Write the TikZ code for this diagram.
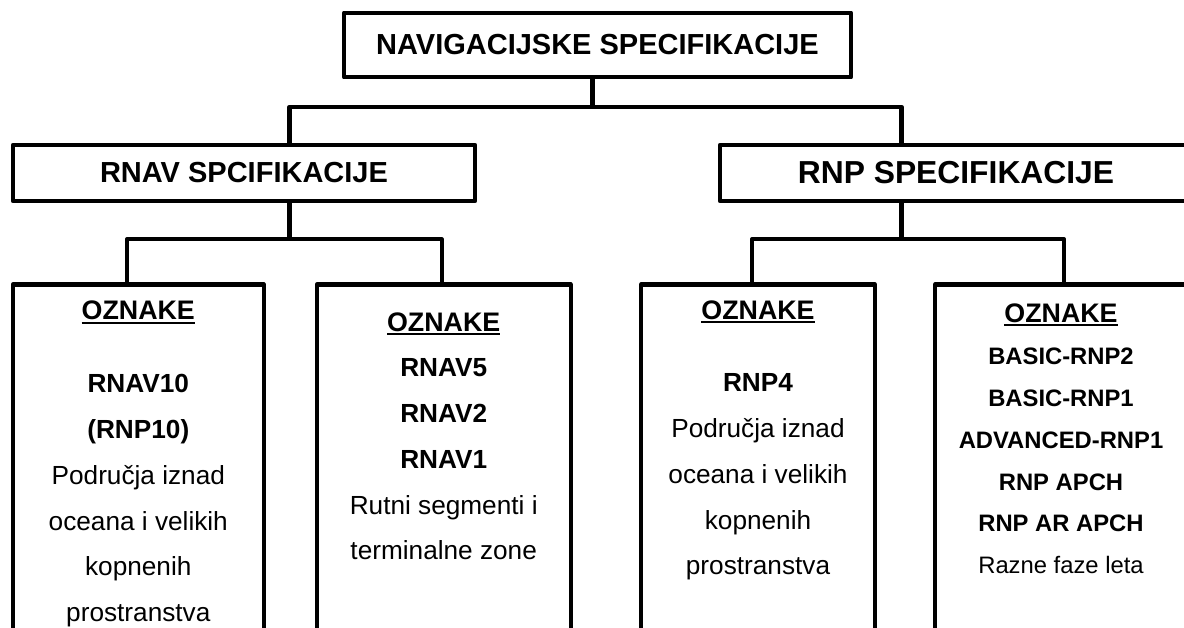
\documentclass[tikz,border=0pt]{standalone}
\usepackage{fontspec}
\setmainfont{Liberation Sans}

\newcommand{\podvuci}[1]{\setbox0\hbox{#1}\rlap{\rule[-3.7pt]{\wd0}{2pt}}\box0}

\begin{document}
\begin{tikzpicture}[x=1pt,y=-1pt,line width=4.3pt,line join=round]
\tikzstyle{okvir}=[rectangle,draw,inner sep=0pt]
\tikzstyle{glavni}=[okvir,font=\bfseries\fontsize{29}{34}\selectfont]
\tikzstyle{stupac}=[okvir,anchor=north,minimum height=400pt]
\tikzstyle{oznaka}=[anchor=base,inner sep=0pt,font=\bfseries\fontsize{26.8}{30}\selectfont]
\tikzstyle{redak}=[anchor=base,inner sep=0pt,font=\fontsize{26.2}{30}\selectfont]
\tikzstyle{sitno}=[anchor=base,inner sep=0pt,font=\fontsize{23.8}{28}\selectfont]

\path[use as bounding box,fill=white] (0,0) rectangle (1184,628);
\clip (0,0) rectangle (1184,628);

\node[glavni,minimum width=507pt,minimum height=64.6pt](nav) at (597.5,45) {NAVIGACIJSKE SPECIFIKACIJE};
\node[glavni,minimum width=462pt,minimum height=56pt](rnav) at (244,173) {RNAV SPCIFIKACIJE};
\node[glavni,minimum width=472pt,minimum height=56pt,font=\bfseries\fontsize{31.8}{36}\selectfont](rnp) at (956,173) {RNP SPECIFIKACIJE};

\node[stupac,minimum width=251.3pt](b1) at (138.3,282.5) {};
\node[stupac,minimum width=254pt](b2) at (443.7,282.5) {};
\node[stupac,minimum width=234pt](b3) at (758,282.5) {};
\node[stupac,minimum width=252pt](b4) at (1061,282.5) {};

% veze
\coordinate (u0) at (592.5,107);
\coordinate (u1) at (289.5,107);
\coordinate (u2) at (901.5,107);
\coordinate (d1) at (127.3,239.3);
\coordinate (d2) at (441.7,239.3);
\coordinate (d3) at (752,239.3);
\coordinate (d4) at (1064,239.3);
\draw (nav.south -| u0) -- (u0);
\draw (rnav.north -| u1) -- (u1) -- (u2) -- (rnp.north -| u2);
\draw (rnav.south -| u1) -- (u1 |- d1);
\draw (rnp.south -| u2) -- (u2 |- d3);
\draw (b1.north -| d1) -- (d1) -- (d2) -- (b2.north -| d2);
\draw (b3.north -| d3) -- (d3) -- (d4) -- (b4.north -| d4);

% oznake
\node[oznaka](oz1) at (138.3,320) {\podvuci{OZNAKE}};
\node[oznaka](oz2) at (443.7,331.7) {\podvuci{OZNAKE}};
\node[oznaka](oz3) at (758,319.3) {\podvuci{OZNAKE}};
\node[oznaka](oz4) at (1061,322.7) {\podvuci{OZNAKE}};

\foreach \t [count=\i] in {\textbf{RNAV10},\textbf{(RNP10)},Područja iznad,oceana i velikih,kopnenih,prostranstva}
  \node[redak](a\i) at (138.3,346.9+45.8*\i) {\t};
\foreach \t [count=\i] in {\textbf{RNAV5},\textbf{RNAV2},\textbf{RNAV1},Rutni segmenti i,terminalne zone}
  \node[redak](c\i) at (443.7,330.9+45.8*\i) {\t};
\foreach \t [count=\i] in {\textbf{RNP4},Područja iznad,oceana i velikih,kopnenih,prostranstva}
  \node[redak](e\i) at (758,345.9+45.8*\i) {\t};
\foreach \t [count=\i] in {\textbf{BASIC-RNP2},\textbf{BASIC-RNP1},\textbf{ADVANCED-RNP1},\textbf{RNP APCH},\textbf{RNP AR APCH},Razne faze leta}
  \node[sitno](g\i) at (1061,323.3+41.7*\i) {\t};
\end{tikzpicture}
\end{document}
